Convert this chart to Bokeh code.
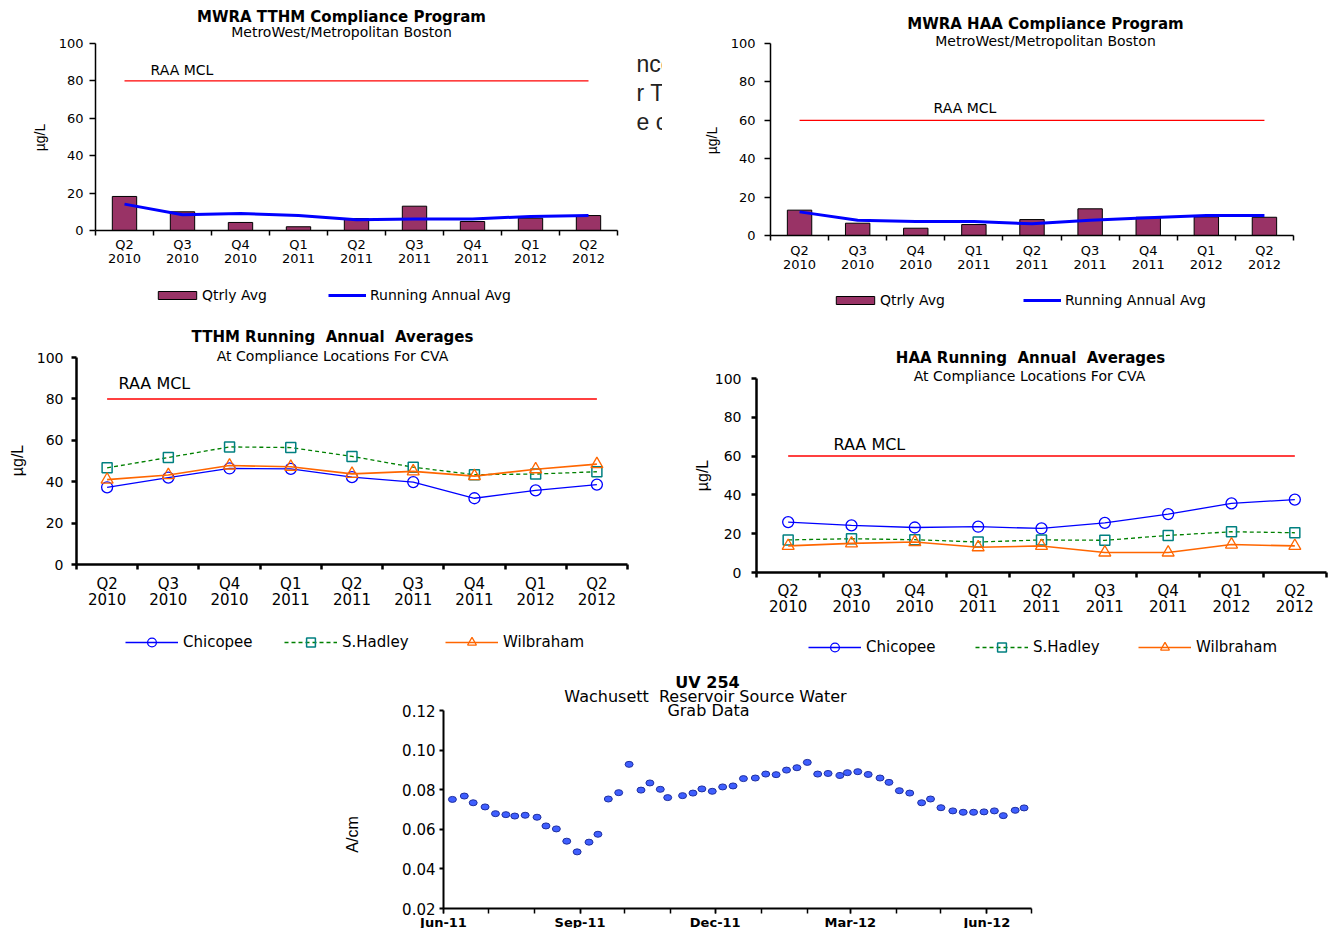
import numpy as np
import pandas as pd
from bokeh.plotting import figure
from bokeh.layouts import column, row, Spacer
from bokeh.models import (Range1d, FixedTicker, LinearAxis, DatetimeAxis, Label, Legend,
                          LegendItem, NumeralTickFormatter, DatetimeTickFormatter)
from bokeh.embed import file_html
from bokeh.resources import INLINE

# ---------------- DATA ----------------
quarters = ["Q2\n2010", "Q3\n2010", "Q4\n2010", "Q1\n2011", "Q2\n2011",
            "Q3\n2011", "Q4\n2011", "Q1\n2012", "Q2\n2012"]

tthm_qtrly_avg = [18.2, 10.0, 4.3, 2.0, 6.4, 13.0, 4.8, 6.6, 8.0]
tthm_running_avg = [14.1, 8.4, 9.1, 8.0, 5.7, 6.2, 6.2, 7.5, 8.0]
haa_qtrly_avg = [13.2, 6.4, 3.8, 5.7, 8.3, 13.9, 9.5, 9.7, 9.5]
haa_running_avg = [12.3, 8.0, 7.3, 7.3, 6.1, 8.0, 9.2, 10.4, 10.4]

tthm_chicopee = [37.3, 42.0, 46.4, 46.2, 42.2, 39.8, 32.0, 35.8, 38.6]
tthm_shadley = [46.7, 51.7, 56.8, 56.5, 52.2, 47.0, 43.4, 43.7, 44.8]
tthm_wilbraham = [41.0, 43.2, 47.8, 47.2, 43.8, 45.0, 42.7, 46.0, 48.5]

haa_chicopee = [26.0, 24.3, 23.2, 23.6, 22.7, 25.6, 30.1, 35.6, 37.6]
haa_shadley = [16.8, 17.4, 16.9, 15.7, 16.8, 16.6, 19.1, 21.0, 20.5]
haa_wilbraham = [13.7, 15.0, 15.7, 13.0, 13.7, 10.3, 10.3, 14.4, 13.7]

tthm_mcl = 80
haa_mcl = 60

uv_dates = ["2011-06-07", "2011-06-15", "2011-06-21", "2011-06-29", "2011-07-06",
            "2011-07-13", "2011-07-19", "2011-07-26", "2011-08-03", "2011-08-09",
            "2011-08-16", "2011-08-23", "2011-08-30", "2011-09-07", "2011-09-13",
            "2011-09-20", "2011-09-27", "2011-10-04", "2011-10-12", "2011-10-18",
            "2011-10-25", "2011-10-30", "2011-11-09", "2011-11-16", "2011-11-22",
            "2011-11-29", "2011-12-06", "2011-12-13", "2011-12-20", "2011-12-28",
            "2012-01-04", "2012-01-11", "2012-01-18", "2012-01-25", "2012-02-01",
            "2012-02-08", "2012-02-15", "2012-02-23", "2012-02-28", "2012-03-06",
            "2012-03-13", "2012-03-21", "2012-03-27", "2012-04-03", "2012-04-10",
            "2012-04-18", "2012-04-24", "2012-05-01", "2012-05-09", "2012-05-16",
            "2012-05-23", "2012-05-30", "2012-06-06", "2012-06-12", "2012-06-20",
            "2012-06-26"]
uv_values = [0.0751, 0.0768, 0.0734, 0.0713, 0.0679, 0.0674, 0.0667, 0.0671, 0.0661, 0.0617,
             0.0602, 0.0540, 0.0486, 0.0535, 0.0575, 0.0753, 0.0785, 0.0928, 0.0798, 0.0834,
             0.0802, 0.0760, 0.0770, 0.0783, 0.0804, 0.0792, 0.0814, 0.0819, 0.0856, 0.0859,
             0.0879, 0.0876, 0.0899, 0.0911, 0.0938, 0.0879, 0.0882, 0.0872, 0.0886, 0.0891,
             0.0877, 0.0859, 0.0837, 0.0795, 0.0783, 0.0734, 0.0753, 0.0709, 0.0693, 0.0686,
             0.0686, 0.0688, 0.0693, 0.0669, 0.0696, 0.0708]

FONT = "DejaVu Sans"
FONT_L = "Liberation Sans"
NB = "\u00a0"  # keeps the doubled spaces of the original titles


# ---------------- LAYOUT HELPERS ----------------
class Panel:
    """Maps page pixels to data units for a figure whose frame fills the whole figure."""

    def __init__(self, fx, fy, fw, fh, xa, xb, pxa, pxb, ya, yb, pya, pyb):
        self.fx, self.fy, self.fw, self.fh = fx, fy, fw, fh
        self.xa, self.pxa, self.ya, self.pya = xa, pxa, ya, pya
        self.kx = (pxb - pxa) / (xb - xa)
        self.ky = (pya - pyb) / (yb - ya)

    def x(self, px):
        return self.xa + (px - self.pxa) / self.kx

    def y(self, py):
        return self.ya + (self.pya - py) / self.ky

    def figure(self, **kw):
        p = figure(width=self.fw, height=self.fh,
                   x_range=Range1d(self.x(self.fx), self.x(self.fx + self.fw)),
                   y_range=Range1d(self.y(self.fy + self.fh), self.y(self.fy)),
                   min_border_left=0, min_border_right=0, min_border_top=0,
                   min_border_bottom=0, x_axis_location=None, y_axis_location=None,
                   title=None, output_backend="svg", toolbar_location=None, **kw)
        p.grid.visible = False
        p.outline_line_color = None
        p.background_fill_color = "white"
        p.border_fill_color = "white"
        return p

    def text(self, p, px, py, text, size, bold=False, align="center", font=FONT,
             color="black", angle=0):
        p.add_layout(Label(x=self.x(px), y=self.y(py), text=text, text_font=font,
                           text_font_size=f"{size}px",
                           text_font_style="bold" if bold else "normal",
                           text_align=align, text_baseline="middle", text_color=color,
                           angle=angle, angle_units="deg"))

    def legend(self, p, label, renderers, px_left, py_center, glyph_w, glyph_h, font_size,
               standoff, box_h):
        bottom = self.fy + self.fh - (py_center + box_h / 2)
        leg = Legend(items=[LegendItem(label=label, renderers=renderers)],
                     location=(px_left - self.fx, bottom), orientation="horizontal",
                     border_line_color=None, background_fill_alpha=0.0,
                     padding=0, margin=0, spacing=0,
                     glyph_width=glyph_w, glyph_height=glyph_h,
                     label_height=glyph_h, label_width=10, label_standoff=standoff,
                     label_text_font=FONT, label_text_font_size=f"{font_size}px",
                     label_text_color="black", label_text_baseline="middle")
        p.add_layout(leg, "center")


def cat_axis(p, font_size, standoff, tick_out, lw, line_height):
    n = len(quarters)
    centers = [i + 0.5 for i in range(n)]
    bounds = [float(i) for i in range(n + 1)]
    ax = LinearAxis(ticker=FixedTicker(ticks=centers, minor_ticks=bounds),
                    fixed_location=0, bounds=(0, n),
                    major_label_overrides={c: q for c, q in zip(centers, quarters)},
                    major_tick_out=0, major_tick_in=0,
                    minor_tick_out=tick_out, minor_tick_in=0,
                    minor_tick_line_color="black", minor_tick_line_width=lw,
                    axis_line_color="black", axis_line_width=lw,
                    major_label_standoff=standoff,
                    major_label_text_font=FONT, major_label_text_font_size=f"{font_size}px",
                    major_label_text_color="black", major_label_text_line_height=line_height)
    p.add_layout(ax, "below")


def val_axis(p, ticks, loc, font_size, standoff, tick_out, lw, fmt=None):
    ax = LinearAxis(ticker=FixedTicker(ticks=ticks), fixed_location=loc,
                    bounds=(ticks[0], ticks[-1]),
                    major_tick_out=tick_out, major_tick_in=0,
                    minor_tick_line_color=None, axis_line_width=lw, major_tick_line_width=lw,
                    axis_line_color="black", major_tick_line_color="black",
                    major_label_standoff=standoff, major_label_text_font=FONT,
                    major_label_text_font_size=f"{font_size}px", major_label_text_color="black")
    if fmt is not None:
        ax.formatter = fmt
    p.add_layout(ax, "left")


def bar_chart(pn, qtrly, running, mcl, title, subtitle, title_xy, sub_xy, mcl_xy, ylab_xy,
              leg1, leg2, y_standoff, x_standoff):
    n = len(quarters)
    xc = np.arange(n) + 0.5
    p = pn.figure()
    bars = p.vbar(x=xc, top=qtrly, bottom=0, width=0.42, fill_color="#993366",
                  line_color="black", line_width=1)
    p.line(x=[xc[0], xc[-1]], y=[mcl, mcl], line_color="#ff0000", line_width=1.2)
    run = p.line(x=xc, y=running, line_color="#0000ff", line_width=3)
    val_axis(p, [0, 20, 40, 60, 80, 100], 0, 13, y_standoff, 6, 1.5)
    cat_axis(p, 13, x_standoff, 5, 1.5, 0.95)
    pn.text(p, title_xy[0], title_xy[1], title, 15, bold=True)
    pn.text(p, sub_xy[0], sub_xy[1], subtitle, 14)
    pn.text(p, mcl_xy[0], mcl_xy[1], "RAA MCL", 14, align="left")
    pn.text(p, ylab_xy[0], ylab_xy[1], "µg/L", 14, font=FONT_L, angle=90)
    pn.legend(p, "Qtrly Avg", [bars], leg1[0], leg1[1], 48, 10, 14, 1, 17)
    pn.legend(p, "Running Annual Avg", [run], leg2[0], leg2[1], 38, 10, 14, 4, 17)
    return p


def line_chart(pn, chic, shad, wilb, mcl, title, subtitle, title_xy, sub_xy, mcl_xy,
               ylab_xy, legs, y_standoff, x_standoff):
    n = len(quarters)
    xc = np.arange(n) + 0.5
    p = pn.figure()
    p.line(x=[xc[0], xc[-1]], y=[mcl, mcl], line_color="#ff0000", line_width=1.5)
    l1 = p.line(x=xc, y=chic, line_color="#0000ff", line_width=1.3)
    m1 = p.scatter(x=xc, y=chic, marker="circle", size=11, fill_color=None,
                   line_color="#0000ff", line_width=1.3)
    l2 = p.line(x=xc, y=shad, line_color="#008000", line_width=1.3, line_dash="4 3")
    m2 = p.scatter(x=xc, y=shad, marker="square", size=10, fill_color=None,
                   line_color="#008080", line_width=1.5)
    l3 = p.line(x=xc, y=wilb, line_color="#ff6600", line_width=1.6)
    m3 = p.scatter(x=xc, y=wilb, marker="triangle", size=12, fill_color=None,
                   line_color="#ff6600", line_width=1.3)
    val_axis(p, [0, 20, 40, 60, 80, 100], 0, 14, y_standoff, 5, 2.5)
    cat_axis(p, 15, x_standoff, 5, 2.5, 0.9)
    pn.text(p, title_xy[0], title_xy[1], title, 15, bold=True)
    pn.text(p, sub_xy[0], sub_xy[1], subtitle, 14)
    pn.text(p, mcl_xy[0], mcl_xy[1], "RAA MCL", 16, align="left")
    pn.text(p, ylab_xy[0], ylab_xy[1], "µg/L", 16, font=FONT_L, angle=90)
    pn.legend(p, "Chicopee", [l1, m1], legs[0][0], legs[0][1], 53, 22, 15, 5, 22)
    pn.legend(p, "S.Hadley", [l2, m2], legs[1][0], legs[1][1], 53, 22, 15, 5, 22)
    pn.legend(p, "Wilbraham", [l3, m3], legs[2][0], legs[2][1], 53, 22, 15, 5, 22)
    return p


n_q = len(quarters)

# ---------------- CHART 1: TTHM compliance ----------------
pn1 = Panel(0, 0, 662, 318, 0, n_q, 95, 617, 0, 100, 230, 43)
f1 = bar_chart(pn1, tthm_qtrly_avg, tthm_running_avg, tthm_mcl,
               "MWRA TTHM Compliance Program", "MetroWest/Metropolitan Boston",
               (341, 16), (341, 31), (150, 69), (39, 137), (153, 294), (328, 294), 6, 1)
# fragment of slide text, cut off behind the neighbouring chart
for txt, yy in [("nce", 63), ("r T", 92), ("e c", 121)]:
    pn1.text(f1, 636, yy, txt, 23, align="left", font=FONT_L, color="#222222")

# ---------------- CHART 2: HAA compliance ----------------
pn2 = Panel(662, 0, 672, 318, 0, n_q, 770, 1293, 0, 100, 235, 43)
f2 = bar_chart(pn2, haa_qtrly_avg, haa_running_avg, haa_mcl,
               "MWRA HAA Compliance Program", "MetroWest/Metropolitan Boston",
               (1045, 23), (1045, 40), (933, 107), (711, 140), (831, 299), (1023, 299), 9, 2)

# ---------------- CHART 3: TTHM RAA ----------------
pn3 = Panel(0, 318, 670, 350, 0, n_q, 76, 627, 0, 100, 564, 357)
f3 = line_chart(pn3, tthm_chicopee, tthm_shadley, tthm_wilbraham, tthm_mcl,
                "TTHM Running" + NB + " Annual" + NB + " Averages",
                "At Compliance Locations For CVA",
                (332, 336), (332, 355), (118, 383), (17, 460),
                [(125, 642), (284, 642), (445, 642)], 8, 5)

# ---------------- CHART 4: HAA RAA ----------------
pn4 = Panel(670, 318, 664, 350, 0, n_q, 756, 1326, 0, 100, 572, 378)
f4 = line_chart(pn4, haa_chicopee, haa_shadley, haa_wilbraham, haa_mcl,
                "HAA Running" + NB + " Annual" + NB + " Averages",
                "At Compliance Locations For CVA",
                (1030, 357), (1029, 375), (833, 444), (702, 475),
                [(808, 647), (975, 647), (1138, 647)], 10, 4)

# ---------------- CHART 5: UV 254 ----------------
x_start = pd.Timestamp("2011-06-01")
x_end = pd.Timestamp("2012-07-01")
xs_ms = x_start.value / 1e6
xe_ms = x_end.value / 1e6
pn5 = Panel(330, 668, 730, 260, xs_ms, xe_ms, 443, 1031, 0.02, 0.12, 908, 710)
f5 = pn5.figure(x_axis_type="datetime")
uv_x = pd.to_datetime(uv_dates)
f5.ellipse(x=uv_x, y=uv_values, width=8, height=6, width_units="screen",
           height_units="screen", fill_color="#3f5fff", line_color="#1f2f9f", line_width=1)
val_axis(f5, [0.02, 0.04, 0.06, 0.08, 0.10, 0.12], xs_ms, 15, 4, 4, 2,
         fmt=NumeralTickFormatter(format="0.00"))
month_starts = pd.date_range(x_start, x_end, freq="MS")
minor_ms = [t.value / 1e6 for t in month_starts]
major_ms = [t.value / 1e6 for t in month_starts if t.month in (3, 6, 9, 12)]
xax5 = DatetimeAxis(ticker=FixedTicker(ticks=major_ms, minor_ticks=minor_ms),
                    fixed_location=0.02, bounds=(xs_ms, xe_ms),
                    formatter=DatetimeTickFormatter(days="%b-%y", months="%b-%y",
                                                    years="%b-%y"),
                    major_tick_out=5, major_tick_in=0, minor_tick_out=5, minor_tick_in=0,
                    major_tick_line_width=1.5, minor_tick_line_width=1.5,
                    minor_tick_line_color="black", axis_line_width=2,
                    major_label_standoff=1, major_label_text_font=FONT,
                    major_label_text_font_size="13px", major_label_text_font_style="bold",
                    major_label_text_color="black")
f5.add_layout(xax5, "below")
pn5.text(f5, 707, 682, "UV 254", 16, bold=True)
pn5.text(f5, 705, 696, "Wachusett" + NB + " Reservoir Source Water", 16)
pn5.text(f5, 708, 710, "Grab Data", 16)
pn5.text(f5, 352, 834, "A/cm", 16, font=FONT_L, angle=90)

layout = column(row(f1, f2), row(f3, f4), row(Spacer(width=330, height=260), f5))

open("out.html", "w").write(file_html(layout, INLINE))
